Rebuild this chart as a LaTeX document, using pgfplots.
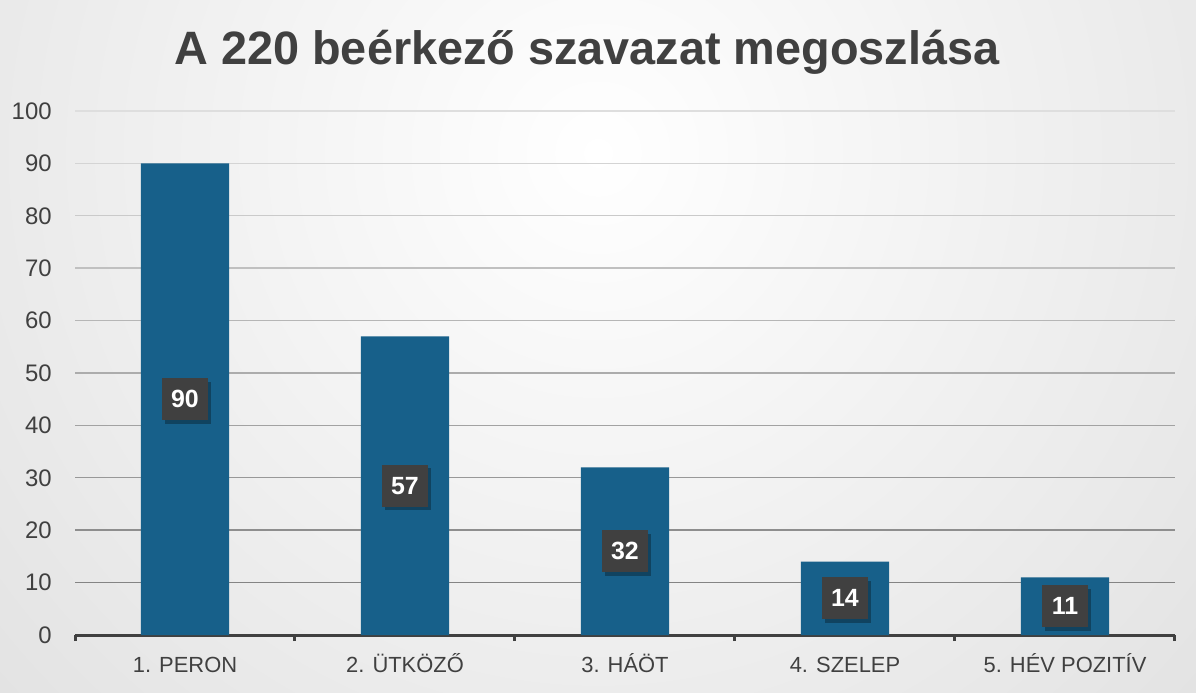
\documentclass[border=0pt]{standalone}
\usepackage{pgfplots}
\usepackage{pgfplotstable}
\pgfplotsset{compat=1.18}
\usepackage{fontspec}
\setmainfont{Liberation Sans}
\usetikzlibrary{shadows}
\definecolor{barblue}{HTML}{17608A}
\definecolor{txtgray}{HTML}{404040}
\definecolor{bggray}{HTML}{C6C6C6}

\pgfplotstableread{
x v
0 90
1 57
2 32
3 14
4 11
}\votes

\begin{document}
\begin{tikzpicture}
% background with soft radial light
\begin{scope}
\clip (0,0) rectangle (598bp,346.5bp);
\shade[inner color=white, outer color=bggray] (299bp,270bp) circle (820bp);
\end{scope}
\begin{axis}[
    at={(37.5bp,29bp)}, anchor=south west,
    scale only axis,
    width=550bp, height=262bp,
    xmin=-0.5, xmax=4.5,
    ymin=0, ymax=100,
    xtick={0,1,2,3,4},
    xticklabels={1. PERON, 2. ÜTKÖZŐ, 3. HÁÖT, 4. SZELEP, 5. HÉV POZITÍV},
    minor xtick={-0.5,0.5,1.5,2.5,3.5,4.5},
    ytick={0,10,...,100},
    axis lines*=left,
    x axis line style={draw=txtgray, line width=1.5bp},
    y axis line style={draw=none},
    ytick style={draw=none},
    xtick style={draw=txtgray, line width=1.5bp},
    tick align=outside,
    major tick length=0pt,
    minor tick length=3bp,
    /pgf/number format/assume math mode=true,
    yticklabel style={font=\fontsize{12}{14}\selectfont, text=txtgray,
        anchor=east, inner sep=0pt, xshift=-11.5bp},
    xticklabel style={font=\fontsize{11}{13}\selectfont, text=txtgray,
        anchor=base, inner sep=0pt, yshift=-18.75bp},
    clip=false,
]
% gridlines fade from dark near the base to light at the top
\pgfplotsinvokeforeach{10,20,...,100}{
    \pgfmathtruncatemacro\g{122+100*#1/100}
    \edef\gridline{\noexpand\draw[color={rgb,255:red,\g;green,\g;blue,\g}, line width=0.7bp]
        (axis cs:-0.5,#1) -- (axis cs:4.5,#1);}
    \gridline
}
\addplot[ybar, fill=barblue, draw=none, bar width=44bp] table[x=x, y=v] {\votes};
% value boxes sit at half the bar height
\addplot[only marks, mark=none, nodes near coords, point meta=explicit,
    nodes near coords style={anchor=center, fill=txtgray, text=white,
        font=\bfseries\fontsize{12.5}{14}\selectfont,
        minimum width=22.5bp, minimum height=21bp, inner sep=1bp,
        general shadow={draw=none, fill=black, opacity=0.3,
            shadow xshift=1.5bp, shadow yshift=-1.8bp}}]
    table[x=x, y expr=\thisrow{v}/2, meta=v] {\votes};
\end{axis}
\node[text=txtgray, font=\bfseries\fontsize{23.5}{27}\selectfont] at (293.5bp,320.5bp) {A 220 beérkező szavazat megoszlása};
\end{tikzpicture}
\end{document}
